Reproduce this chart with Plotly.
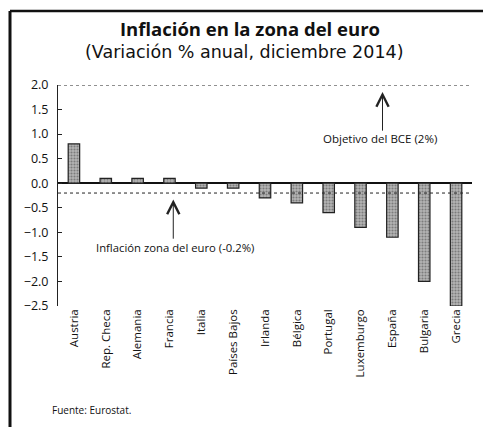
"""Inflación en la zona del euro, diciembre 2014."""

import plotly.graph_objects as go

paises = ["Austria", "Rep. Checa", "Alemania", "Francia", "Italia", "Países Bajos",
          "Irlanda", "Bélgica", "Portugal", "Luxemburgo", "España", "Bulgaria", "Grecia"]
inflacion = [0.8, 0.1, 0.1, 0.1, -0.1, -0.1, -0.3, -0.4, -0.6, -0.9, -1.1, -2.0, -2.5]
objetivo_bce = 2.0
media_euro = -0.2
y_ticks = [2.0, 1.5, 1.0, 0.5, 0.0, -0.5, -1.0, -1.5, -2.0, -2.5]

# la página añade 8 px de margen al cuerpo: la figura se reduce y se desplaza
OFF = 8
W, H = 491 - OFF, 427 - OFF
L, R, T, B = 50, 19, 77, 121
FONT = "Open Sans"


def px_x(p):
    # p en píxeles de la captura de referencia
    return (p - OFF - L) / (W - L - R)


def px_y(p):
    return 1 - (p - OFF - T) / (H - T - B)


fig = go.Figure()
fig.add_trace(go.Bar(
    x=paises,
    y=inflacion,
    marker=dict(
        color="#a0a0a0",
        line=dict(color="#222", width=1.2),
        pattern=dict(shape=".", fgcolor="#444", bgcolor="#b4b4b4", size=3, solidity=0.4),
    ),
    width=0.36,
))

# líneas de referencia
fig.add_hline(y=objetivo_bce, line=dict(color="#222", width=1, dash="dot"))
fig.add_hline(y=media_euro, line=dict(color="#222", width=1, dash="dot"))

# flechas y notas
fig.add_annotation(x=9.69, y=1.86, ax=9.69, ay=1.04, xref="x", yref="y", axref="x", ayref="y",
                   text="", showarrow=True, arrowhead=5, arrowsize=2.4, arrowwidth=1, arrowcolor="#222")
fig.add_annotation(x=9.6, y=0.92, xref="x", yref="y", text="Objetivo del BCE (2%)",
                   showarrow=False, font=dict(size=11.5, family=FONT, color="#111"))
fig.add_annotation(x=3.12, y=-0.33, ax=3.12, ay=-1.16, xref="x", yref="y", axref="x", ayref="y",
                   text="", showarrow=True, arrowhead=5, arrowsize=2.4, arrowwidth=1, arrowcolor="#222")
fig.add_annotation(x=3.16, y=-1.31, xref="x", yref="y", text="Inflación zona del euro (-0.2%)",
                   showarrow=False, font=dict(size=11.3, family=FONT, color="#111"))

# título y subtítulo
fig.add_annotation(x=px_x(250), y=px_y(28.5), xref="paper", yref="paper", showarrow=False,
                   xanchor="center", yanchor="middle", borderpad=0,
                   text="<b>Inflación en la zona del euro</b>", font=dict(size=18.5, family=FONT, color="#111"))
fig.add_annotation(x=px_x(244), y=px_y(51.5), xref="paper", yref="paper", showarrow=False,
                   xanchor="center", yanchor="middle", borderpad=0,
                   text="(Variación % anual, diciembre 2014)", font=dict(size=17.5, family="DejaVu Sans", color="#111"))
fig.add_annotation(x=px_x(50), y=px_y(410), xref="paper", yref="paper", showarrow=False,
                   xanchor="left", yanchor="middle",
                   text="Fuente: Eurostat.", font=dict(size=10, family=FONT, color="#111"))

# marco del recuadro
fig.add_shape(type="line", xref="paper", yref="paper", x0=px_x(10), x1=px_x(10), y0=px_y(11), y1=px_y(427),
              line=dict(color="#111", width=3))
fig.add_shape(type="line", xref="paper", yref="paper", x0=px_x(10), x1=px_x(491), y0=px_y(11), y1=px_y(11),
              line=dict(color="#111", width=2.5))

fig.update_layout(
    width=W,
    height=H,
    margin=dict(l=L, r=R, t=T, b=B),
    plot_bgcolor="white",
    paper_bgcolor="white",
    showlegend=False,
    font=dict(family=FONT, size=11, color="#111"),
    bargap=0.64,
    xaxis=dict(
        tickangle=-90,
        showline=False,
        showgrid=False,
        ticks="",
        tickfont=dict(size=11.5),
    ),
    yaxis=dict(
        range=[-2.5, 2.0],
        tickvals=y_ticks,
        tickformat=".1f",
        showgrid=False,
        showline=True,
        linecolor="#222",
        linewidth=1,
        ticks="inside",
        ticklen=4,
        tickcolor="#222",
        ticklabelstandoff=6,
        zeroline=True,
        zerolinecolor="#111",
        zerolinewidth=1.8,
        tickfont=dict(size=12.5),
    ),
)

fig.write_html("out.html")
